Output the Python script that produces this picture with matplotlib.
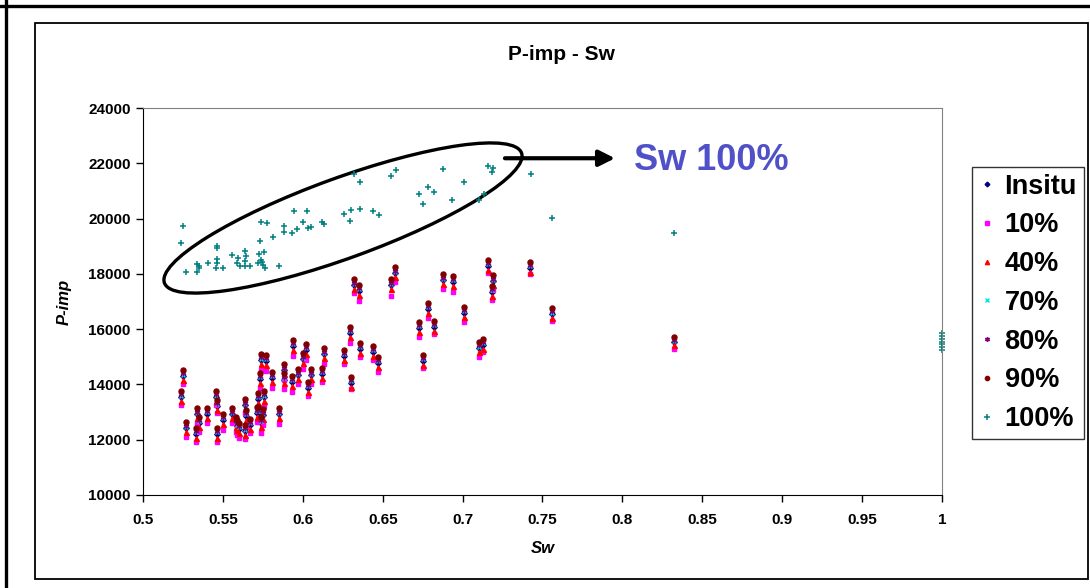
import matplotlib.pyplot as plt
from matplotlib.lines import Line2D
from matplotlib.patches import Ellipse, Rectangle

plt.rcParams['font.family'] = ['Liberation Sans', 'DejaVu Sans']
plt.rcParams['font.weight'] = 'bold'

# Water saturation of each sample
sw = [0.525, 0.524, 0.527, 0.533, 0.534, 0.535, 0.540, 0.546, 0.5455, 0.5466,
      0.550, 0.556, 0.558, 0.560, 0.559, 0.564, 0.5645, 0.564, 0.567, 0.572,
      0.574, 0.577, 0.573, 0.572, 0.576, 0.5715, 0.575, 0.574, 0.581, 0.585,
      0.588, 0.5885, 0.593, 0.594, 0.597, 0.600, 0.602, 0.603, 0.605, 0.612,
      0.613, 0.626, 0.6295, 0.630, 0.632, 0.635, 0.636, 0.644, 0.647, 0.655,
      0.658, 0.673, 0.675, 0.6785, 0.682, 0.688, 0.694, 0.701, 0.710, 0.713,
      0.716, 0.719, 0.7183, 0.742, 0.756, 0.832]

# P-impedance for each fluid case
p_insitu = [14300, 13540, 12410, 12210, 12920, 12610, 12940, 12210, 13540, 13230,
            12710, 12920, 12590, 12400, 12490, 13240, 12860, 12310, 12530, 12980,
            14880, 14850, 14210, 13480, 13540, 12980, 12880, 12610, 14240, 12920,
            14510, 14180, 14090, 15390, 14330, 14910, 15250, 13880, 14330, 14390,
            15090, 15030, 15870, 14060, 17590, 17390, 15290, 15180, 14790, 17590,
            18020, 16050, 14850, 16740, 16090, 17770, 17720, 16600, 15310, 15430,
            18290, 17730, 17360, 18230, 16540, 15520]
p_10 = [14020, 13260, 12090, 11910, 12610, 12290, 12620, 11930, 13260, 12950,
        12350, 12620, 12290, 12050, 12170, 12960, 12470, 12030, 12230, 12690,
        14520, 14500, 13860, 13170, 13220, 12650, 12530, 12230, 13860, 12570,
        14160, 13830, 13740, 15030, 14010, 14550, 14890, 13580, 14010, 14080,
        14740, 14730, 15510, 13830, 17300, 17030, 14980, 14890, 14460, 17210,
        17700, 15730, 14590, 16400, 15830, 17450, 17360, 16270, 14980, 15190,
        18050, 17420, 17060, 18000, 16310, 15300]
p_40 = [14160, 13400, 12270, 12070, 12780, 12470, 12800, 12070, 13400, 13090,
        12570, 12780, 12450, 12260, 12350, 13100, 12720, 12170, 12390, 12840,
        14740, 14710, 14070, 13340, 13400, 12840, 12740, 12470, 14100, 12780,
        14370, 14040, 13950, 15250, 14190, 14770, 15110, 13740, 14190, 14250,
        14950, 14890, 15730, 13920, 17450, 17250, 15150, 15040, 14650, 17450,
        17880, 15910, 14710, 16600, 15950, 17630, 17580, 16460, 15170, 15290,
        18150, 17590, 17220, 18090, 16400, 15420]
p_70 = [14360, 13600, 12470, 12270, 12980, 12670, 13000, 12270, 13600, 13290,
        12770, 12980, 12650, 12460, 12550, 13300, 12920, 12370, 12590, 13040,
        14940, 14910, 14270, 13540, 13600, 13040, 12940, 12670, 14300, 12980,
        14570, 14240, 14150, 15450, 14390, 14970, 15310, 13940, 14390, 14450,
        15150, 15090, 15930, 14120, 17650, 17450, 15350, 15240, 14850, 17650,
        18080, 16110, 14910, 16800, 16150, 17830, 17780, 16660, 15370, 15490,
        18350, 17790, 17420, 18290, 16600, 15580]
p_80 = [14400, 13650, 12510, 12320, 13020, 12710, 13040, 12310, 13640, 13330,
        12820, 13020, 12690, 12500, 12600, 13340, 12960, 12410, 12630, 13080,
        14980, 14950, 14310, 13580, 13650, 13080, 12980, 12710, 14340, 13020,
        14610, 14280, 14190, 15490, 14430, 15010, 15350, 13990, 14430, 14490,
        15190, 15140, 15970, 14170, 17690, 17490, 15390, 15290, 14890, 17690,
        18120, 16150, 14960, 16840, 16190, 17870, 17820, 16700, 15420, 15540,
        18390, 17830, 17460, 18340, 16650, 15620]
p_90 = [14520, 13760, 12630, 12430, 13140, 12830, 13160, 12430, 13760, 13450,
        12930, 13140, 12810, 12620, 12710, 13460, 13080, 12530, 12750, 13200,
        15100, 15070, 14430, 13700, 13760, 13200, 13100, 12830, 14460, 13140,
        14730, 14400, 14310, 15610, 14550, 15130, 15470, 14100, 14550, 14610,
        15310, 15250, 16090, 14280, 17810, 17610, 15510, 15400, 15010, 17810,
        18240, 16270, 15070, 16960, 16310, 17990, 17940, 16820, 15530, 15650,
        18510, 17950, 17580, 18450, 16760, 15710]

# Fully water-saturated case
sw_100 = [0.525, 0.524, 0.527, 0.534, 0.535, 0.534, 0.535, 0.5405, 0.546, 0.5465,
          0.5465, 0.546, 0.5457, 0.550, 0.556, 0.5596, 0.5586, 0.5607, 0.564, 0.5645,
          0.5638, 0.564, 0.567, 0.572, 0.5726, 0.576, 0.5737, 0.5743, 0.5749, 0.5763,
          0.5732, 0.5738, 0.5778, 0.5815, 0.585, 0.588, 0.5882, 0.593, 0.5947, 0.5966,
          0.600, 0.6024, 0.603, 0.605, 0.612, 0.6134, 0.626, 0.630, 0.6295, 0.636,
          0.644, 0.6475, 0.632, 0.636, 0.655, 0.6585, 0.673, 0.675, 0.6785, 0.682,
          0.688, 0.6936, 0.701, 0.710, 0.7132, 0.7157, 0.7188, 0.7186, 0.7426, 0.756,
          0.832, 1.0, 1.0, 1.0, 1.0, 1.0, 1.0, 1.0]
p_100 = [19750, 19110, 18060, 18060, 18210, 18350, 18300, 18400, 19030, 18950,
         18530, 18410, 18210, 18210, 18690, 18570, 18390, 18300, 18840, 18650,
         18480, 18300, 18300, 18390, 18720, 18810, 18510, 18450, 18330, 18210,
         19210, 19870, 19840, 19350, 18300, 19750, 19530, 19500, 20280, 19620,
         19870, 20280, 19660, 19710, 19870, 19800, 20160, 20320, 19910, 20370,
         20280, 20130, 21610, 21340, 21560, 21760, 20890, 20550, 21150, 20960,
         21790, 20670, 21340, 20670, 20890, 21910, 21850, 21680, 21610, 20020,
         19490, 15250, 15350, 15450, 15550, 15650, 15750, 15850]

x_ticks = [0.5, 0.55, 0.6, 0.65, 0.7, 0.75, 0.8, 0.85, 0.9, 0.95, 1.0]
x_tick_labels = ['0.5', '0.55', '0.6', '0.65', '0.7', '0.75', '0.8', '0.85', '0.9', '0.95', '1']
y_ticks = [10000, 12000, 14000, 16000, 18000, 20000, 22000, 24000]

fig = plt.figure(figsize=(10.9, 5.88), dpi=100)
ax = fig.add_axes([0.1312, 0.1582, 0.7330, 0.6577])

series = [
    ('Insitu', p_insitu, 'D', '#000080', 2.8),
    ('10%', p_10, 's', '#FF00FF', 3.0),
    ('40%', p_40, '^', '#FF0000', 3.6),
    ('70%', p_70, 'x', '#00E5E5', 3.4),
    ('80%', p_80, (6, 2, 0), '#800080', 4.0),
    ('90%', p_90, 'o', '#800000', 3.6),
]
for label, vals, marker, color, ms in series:
    ax.plot(sw, vals, linestyle='none', marker=marker, color=color, ms=ms,
            mew=1, label=label, clip_on=False)
ax.plot(sw_100, p_100, linestyle='none', marker='+', color='#008080', ms=4.6,
        mew=1.1, label='100%', clip_on=False)

ax.set_xlim(0.5, 1.0)
ax.set_ylim(10000, 24000)
ax.set_xticks(x_ticks)
ax.set_xticklabels(x_tick_labels)
ax.set_yticks(y_ticks)
ax.tick_params(axis='both', labelsize=11, length=5, width=1, color='black')
ax.tick_params(axis='x', pad=8)
ax.tick_params(axis='y', pad=4)
for side in ['top', 'right']:
    ax.spines[side].set_color('#808080')
for side in ['left', 'bottom']:
    ax.spines[side].set_color('black')

ax.set_xlabel('Sw', fontsize=12, style='italic', fontweight='bold')
ax.xaxis.set_label_coords(0.5, -0.12)
ax.set_ylabel('P-imp', fontsize=12, style='italic', fontweight='bold')
ax.yaxis.set_label_coords(-0.089, 0.5)

fig.text(0.515, 1 - 55 / 588, 'P-imp - Sw', ha='center', va='center',
         fontsize=15, fontweight='bold')

# highlight around the fully saturated cloud
ax.add_artist(Ellipse((3.43, 3.70), 3.80, 0.80, angle=20, fill=False,
                      lw=2.4, ec='black', transform=fig.dpi_scale_trans))
ax.annotate('', xy=(0.7954, 22190), xytext=(0.7265, 22190),
            arrowprops=dict(arrowstyle='-|>', lw=3, color='black',
                            mutation_scale=24, shrinkA=0, shrinkB=0),
            annotation_clip=False)
ax.text(0.807, 22120, 'Sw 100%', ha='left', va='center', fontsize=26,
        fontweight='bold', color='#5050C8')

leg = ax.legend(loc='upper left', bbox_to_anchor=(972 / 1090, 1 - 167 / 588),
                bbox_transform=fig.transFigure, fontsize=19.5, frameon=True,
                fancybox=False, edgecolor='black', borderaxespad=0,
                borderpad=0.25, handlelength=0.6, handletextpad=0.35,
                labelspacing=0.47, markerscale=0.85)
leg.get_frame().set_linewidth(1)

# chart border
fig.add_artist(Rectangle((35 / 1090, 1 - 579 / 588), 1053 / 1090, 556 / 588,
                         fill=False, lw=1.3, ec='black', transform=fig.transFigure))
fig.add_artist(Line2D([0, 1], [1 - 6 / 588, 1 - 6 / 588], lw=2.4, color='black',
                      transform=fig.transFigure))
fig.add_artist(Line2D([6 / 1090, 6 / 1090], [0, 1], lw=2.4, color='black',
                      transform=fig.transFigure))

fig.savefig('out.png', dpi=100)
